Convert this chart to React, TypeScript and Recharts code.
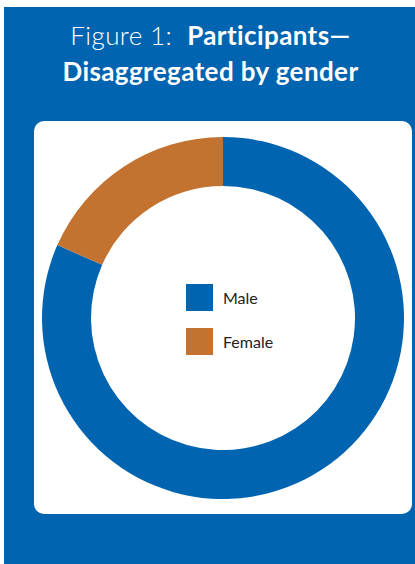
import React from "react";
import { PieChart, Pie, Cell } from "recharts";

const categories = ["Male", "Female"];
const shares = [81.6, 18.4];
const colors = ["#0064B0", "#C47230"];

const data = categories.map((name, i) => ({ name, value: shares[i] }));

export default function App() {
  return (
    <div style={{ position: "absolute", left: 0, top: 0, width: 415, height: 564, background: "#fff" }}>
      <div
        style={{
          position: "absolute",
          left: 4,
          top: 7,
          width: 411,
          height: 557,
          background: "#0064B0",
        }}
      />
      <div
        style={{
          position: "absolute",
          left: 0,
          top: 17,
          width: 421,
          textAlign: "center",
          color: "#fff",
          fontFamily: "Lato, 'Noto Sans', sans-serif",
          fontSize: 26,
          letterSpacing: 0.4,
          lineHeight: "36px",
        }}
      >
        <div>
          <span style={{ fontWeight: 300 }}>Figure 1:&nbsp;&nbsp;</span>
          <span style={{ fontWeight: 700 }}>Participants—</span>
        </div>
        <div style={{ fontWeight: 700 }}>Disaggregated by gender</div>
      </div>
      <div
        style={{
          position: "absolute",
          left: 34,
          top: 121,
          width: 378,
          height: 393,
          background: "#fff",
          borderRadius: 10,
          overflow: "hidden",
        }}
      >
        <PieChart width={378} height={393} margin={{ top: 0, right: 0, bottom: 0, left: 0 }}>
          <Pie
            data={data}
            dataKey="value"
            nameKey="name"
            cx={189}
            cy={197}
            innerRadius={132}
            outerRadius={181}
            startAngle={90}
            endAngle={-270}
            stroke="none"
            isAnimationActive={false}
          >
            {data.map((d, i) => (
              <Cell key={d.name} fill={colors[i]} />
            ))}
          </Pie>
        </PieChart>
        <div style={{ position: "absolute", left: 152, top: 163 }}>
          {categories.map((name, i) => (
            <div
              key={name}
              style={{ display: "flex", alignItems: "center", height: 27, marginBottom: i === 0 ? 17 : 0 }}
            >
              <div style={{ width: 27, height: 27, background: colors[i] }} />
              <span
                style={{
                  marginLeft: 10,
                  fontFamily: "Lato, 'Noto Sans', sans-serif",
                  fontSize: 16,
                  color: "#222",
                }}
              >
                {name}
              </span>
            </div>
          ))}
        </div>
      </div>
    </div>
  );
}
